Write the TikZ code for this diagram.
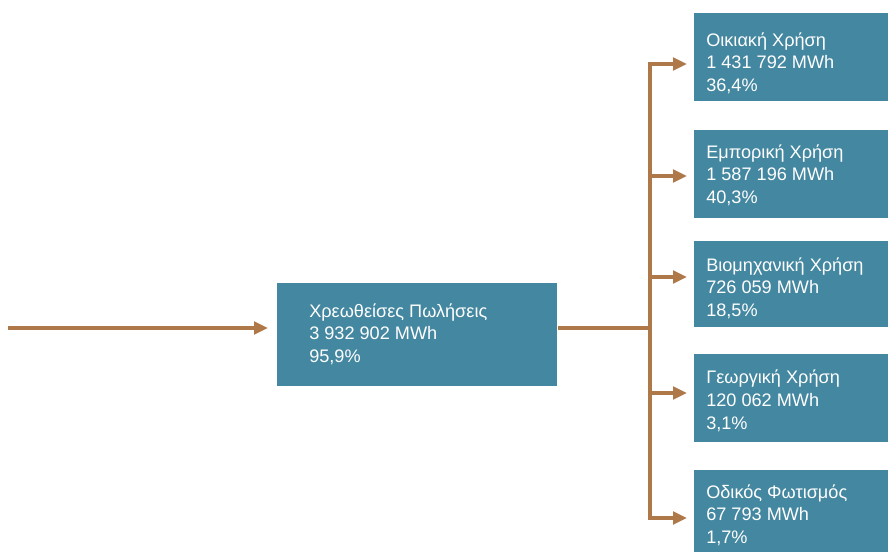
\documentclass[tikz,border=0pt]{standalone}
\usepackage{fontspec}
\setmainfont{Liberation Sans}
\usetikzlibrary{arrows.meta}
\definecolor{boxblue}{RGB}{68,135,160}
\definecolor{arrbrown}{RGB}{174,120,72}
\tikzset{
  box/.style={rectangle, fill=boxblue, draw=none, anchor=north west, inner sep=0pt},
  txt/.style={text=white, anchor=base west, align=left, inner sep=0pt,
    font=\fontsize{13.6pt}{16.9pt}\selectfont},
  arr/.style={draw=arrbrown, line width=2.4pt,
    -{Triangle[length=10.5pt, width=9.5pt]}, shorten >=5.25pt},
  ln/.style={draw=arrbrown, line width=2.4pt},
}
\begin{document}
\begin{tikzpicture}[x=0.75pt, y=-0.75pt]
\useasboundingbox (0,0) rectangle (888,552);
% main box
\node[box, minimum width=210pt, minimum height=77.25pt] (m) at (277,283) {};
\node[txt] (mt) at (309,362.5) {Χρεωθείσες Πωλήσεις\\3 932 902 MWh\\95,9\%};
% right boxes
\node[box, minimum width=145.5pt, minimum height=66pt] (b1) at (694,13) {};
\node[box, minimum width=145.5pt, minimum height=66pt] (b2) at (694,130) {};
\node[box, minimum width=145.5pt, minimum height=64.5pt] (b3) at (694,241) {};
\node[box, minimum width=145.5pt, minimum height=66pt] (b4) at (694,354) {};
\node[box, minimum width=145.5pt, minimum height=66pt] (b5) at (694,470) {};
\node[txt] (t1) at (706,91.5) {Οικιακή Χρήση\\1 431 792 MWh\\36,4\%};
\node[txt] (t2) at (706,203.5) {Εμπορική Χρήση\\1 587 196 MWh\\40,3\%};
\node[txt] (t3) at (706,316.5) {Βιομηχανική Χρήση\\726 059 MWh\\18,5\%};
\node[txt] (t4) at (706,429) {Γεωργική Χρήση\\120 062 MWh\\3,1\%};
\node[txt] (t5) at (706,543.5) {Οδικός Φωτισμός\\67 793 MWh\\1,7\%};
% connectors
\coordinate (src) at (8,328);
\coordinate (j) at (650,328);
\draw[arr, shorten >=6.75pt] (src) -- (m.west |- src);
\draw[ln] (m.east |- j) -- (j);
\draw[arr] (j) |- (b1.west |- 0,64);
\draw[arr] (j) |- (b2.west |- 0,176);
\draw[arr] (j) |- (b3.west |- 0,277);
\draw[arr] (j) |- (b4.west |- 0,393);
\draw[arr] (j) |- (b5.west |- 0,518);
\end{tikzpicture}
\end{document}
